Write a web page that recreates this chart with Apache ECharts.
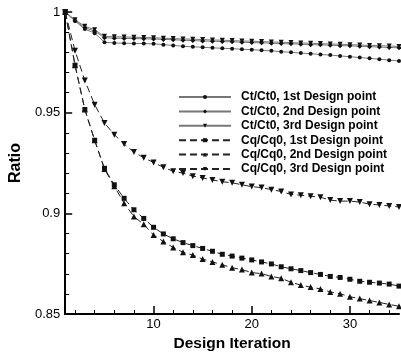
<!DOCTYPE html>
<html>
<head>
<meta charset="utf-8">
<script src="https://cdn.jsdelivr.net/npm/echarts@6/dist/echarts.min.js"></script>
<style>
html,body{margin:0;padding:0;background:#fff;}
#chart{width:401px;height:357px;}
</style>
</head>
<body>
<div id="chart"></div>
<script>
const iterations = [1,2,3,4,5,6,7,8,9,10,11,12,13,14,15,16,17,18,19,20,21,22,23,24,25,26,27,28,29,30,31,32,33,34,35];
const seriesNames = ['Ct/Ct0, 1st Design point','Ct/Ct0, 2nd Design point','Ct/Ct0, 3rd Design point','Cq/Cq0, 1st Design point','Cq/Cq0, 2nd Design point','Cq/Cq0, 3rd Design point'];
const ct1 = [1.0,0.9955,0.9915,0.9895,0.9850,0.9846,0.9845,0.9844,0.9843,0.9842,0.9838,0.9834,0.9830,0.9827,0.9825,0.9822,0.9820,0.9818,0.9815,0.9813,0.9810,0.9807,0.9803,0.9800,0.9796,0.9793,0.9789,0.9786,0.9782,0.9778,0.9774,0.9770,0.9766,0.9761,0.9757];
const ct2 = [1.0,0.9957,0.9922,0.9905,0.9872,0.9870,0.9869,0.9868,0.9867,0.9866,0.9864,0.9862,0.9860,0.9858,0.9856,0.9855,0.9853,0.9852,0.9850,0.9848,0.9847,0.9845,0.9843,0.9842,0.9840,0.9838,0.9837,0.9835,0.9833,0.9832,0.9830,0.9828,0.9826,0.9824,0.9822];
const ct3 = [1.0,0.9961,0.9929,0.9912,0.9879,0.9877,0.9876,0.9875,0.9873,0.9872,0.9870,0.9868,0.9866,0.9865,0.9863,0.9861,0.9860,0.9858,0.9856,0.9855,0.9853,0.9851,0.9850,0.9848,0.9846,0.9845,0.9843,0.9841,0.9840,0.9838,0.9836,0.9834,0.9833,0.9831,0.9829];
const cq1 = [1.0,0.9736,0.9516,0.9363,0.9224,0.9142,0.9075,0.9018,0.8975,0.8931,0.8898,0.8874,0.8855,0.8840,0.8826,0.8812,0.8797,0.8788,0.8778,0.8769,0.8759,0.8749,0.8735,0.8725,0.8716,0.8706,0.8697,0.8687,0.8682,0.8673,0.8663,0.8658,0.8654,0.8649,0.8639];
const cq2 = [1.0,0.9736,0.9516,0.9363,0.9220,0.9135,0.9051,0.8984,0.8946,0.8893,0.8860,0.8831,0.8807,0.8793,0.8773,0.8759,0.8745,0.8730,0.8721,0.8706,0.8701,0.8687,0.8678,0.8658,0.8644,0.8634,0.8625,0.8610,0.8601,0.8586,0.8577,0.8567,0.8558,0.8548,0.8539];
const cq3 = [1.0,0.9808,0.9660,0.9540,0.9449,0.9391,0.9344,0.9305,0.9276,0.9253,0.9229,0.9209,0.9200,0.9185,0.9176,0.9166,0.9157,0.9152,0.9142,0.9133,0.9128,0.9118,0.9109,0.9094,0.9090,0.9085,0.9080,0.9066,0.9061,0.9061,0.9056,0.9046,0.9042,0.9037,0.9032];
const xMajorTicks = [10,20,30];
const xMinorTicks = [2,4,6,8,12,14,16,18,22,24,26,28,32,34];
const yMajorTicks = [0.85,0.9,0.95,1];
const yMinorTicks = [0.86,0.87,0.88,0.89,0.91,0.92,0.93,0.94,0.96,0.97,0.98,0.99];

const pairs = vals => iterations.map((x,i)=>[x, vals[i]]);
const FONT = '"Liberation Sans", Arial, sans-serif';

function mk(name, vals, symbol, size, rotate, dashed) {
  return {
    name: name, type: 'line', data: pairs(vals),
    xAxisIndex: 0, yAxisIndex: 0,
    symbol: symbol, symbolSize: size, symbolRotate: rotate,
    showSymbol: true,
    lineStyle: {color: dashed ? '#222' : '#777', width: 1, type: dashed ? [7,4] : 'solid'},
    itemStyle: {color: '#111', borderWidth: 0},
    emphasis: {disabled: true},
    animation: false
  };
}

const chart = echarts.init(document.getElementById('chart'), null, {renderer: 'canvas'});
chart.setOption({
  animation: false,
  backgroundColor: '#fff',
  grid: {left: 56, right: 2, top: 12, bottom: 32, containLabel: false},
  legend: {
    orient: 'vertical', left: 178, top: 91, padding: 0,
    itemWidth: 52, itemHeight: 5, itemGap: 2.4,
    data: seriesNames,
    textStyle: {fontFamily: FONT, fontWeight: 'bold', fontSize: 12, color: '#000', padding: [0,0,0,5]},
    selectedMode: false
  },
  xAxis: [{
    type: 'value', min: 1, max: 35, position: 'bottom',
    name: 'Design Iteration', nameLocation: 'middle', nameGap: 13,
    nameTextStyle: {fontFamily: FONT, fontWeight: 'bold', fontSize: 15.5, color: '#000'},
    axisLine: {show: true, lineStyle: {color: '#000', width: 2}},
    axisTick: {show: true, inside: true, length: 8, customValues: xMajorTicks, lineStyle: {color: '#000', width: 1.5}},
    axisLabel: {customValues: xMajorTicks, margin: 4, fontFamily: FONT, fontSize: 13, color: '#000'},
    splitLine: {show: false}
  }, {
    type: 'value', min: 1, max: 35, position: 'bottom', gridIndex: 0,
    axisLine: {show: false},
    axisTick: {show: true, inside: true, length: 4, customValues: xMinorTicks, lineStyle: {color: '#000', width: 1}},
    axisLabel: {show: false},
    splitLine: {show: false}
  }],
  yAxis: [{
    type: 'value', min: 0.85, max: 1, position: 'left',
    name: 'Ratio', nameLocation: 'middle', nameGap: 28, nameRotate: 90,
    nameTextStyle: {fontFamily: FONT, fontWeight: 'bold', fontSize: 16, color: '#000'},
    axisLine: {show: true, lineStyle: {color: '#000', width: 2}},
    axisTick: {show: true, inside: true, length: 7, customValues: yMajorTicks, lineStyle: {color: '#000', width: 1.5}},
    axisLabel: {customValues: yMajorTicks, margin: 5, fontFamily: FONT, fontSize: 13, color: '#000'},
    splitLine: {show: false}
  }, {
    type: 'value', min: 0.85, max: 1, position: 'left', gridIndex: 0,
    axisLine: {show: false},
    axisTick: {show: true, inside: true, length: 4, customValues: yMinorTicks, lineStyle: {color: '#000', width: 1}},
    axisLabel: {show: false},
    splitLine: {show: false}
  }],
  series: [
    mk(seriesNames[0], ct1, 'circle', 4, 0, false),
    mk(seriesNames[1], ct2, 'diamond', 5, 0, false),
    mk(seriesNames[2], ct3, 'triangle', 5, 180, false),
    mk(seriesNames[3], cq1, 'rect', 5, 0, true),
    mk(seriesNames[4], cq2, 'triangle', 6, 0, true),
    mk(seriesNames[5], cq3, 'triangle', 6, 180, true)
  ]
});
</script>
</body>
</html>
